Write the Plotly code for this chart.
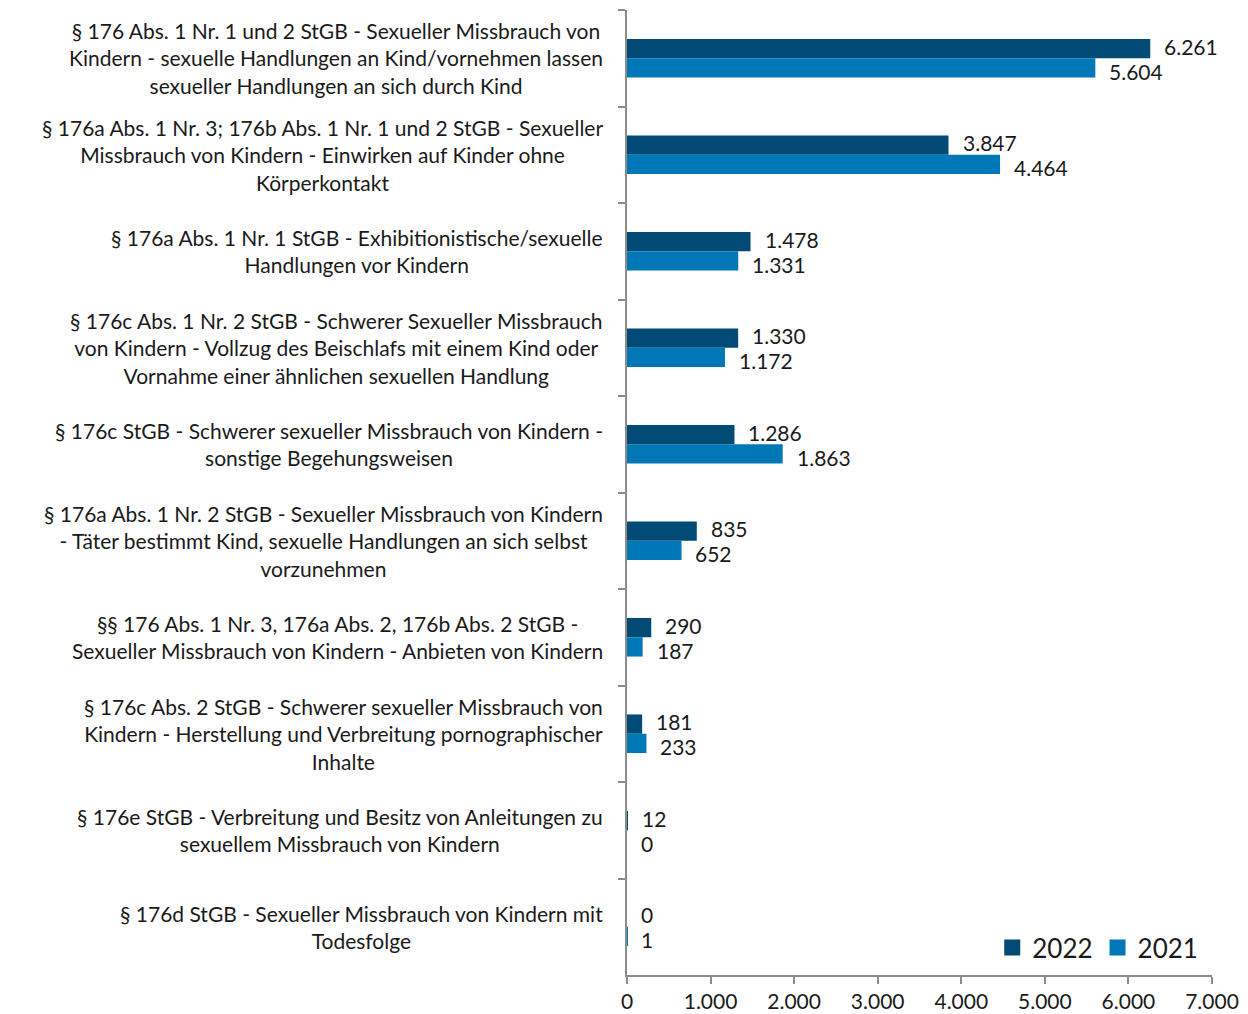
import plotly.graph_objects as go

categories = [
    "§ 176 Abs. 1 Nr. 1 und 2 StGB - Sexueller Missbrauch von<br>Kindern - sexuelle Handlungen an Kind/vornehmen lassen<br>sexueller Handlungen an sich durch Kind",
    "§ 176a Abs. 1 Nr. 3; 176b Abs. 1 Nr. 1 und 2 StGB - Sexueller<br>Missbrauch von Kindern - Einwirken auf Kinder ohne<br>Körperkontakt",
    "§ 176a Abs. 1 Nr. 1 StGB - Exhibitionistische/sexuelle<br>Handlungen vor Kindern",
    "§ 176c Abs. 1 Nr. 2 StGB - Schwerer Sexueller Missbrauch<br>von Kindern - Vollzug des Beischlafs mit einem Kind oder<br>Vornahme einer ähnlichen sexuellen Handlung",
    "§ 176c StGB - Schwerer sexueller Missbrauch von Kindern -<br>sonstige Begehungsweisen",
    "§ 176a Abs. 1 Nr. 2 StGB - Sexueller Missbrauch von Kindern<br>- Täter bestimmt Kind, sexuelle Handlungen an sich selbst<br>vorzunehmen",
    "§§ 176 Abs. 1 Nr. 3, 176a Abs. 2, 176b Abs. 2 StGB -<br>Sexueller Missbrauch von Kindern - Anbieten von Kindern",
    "§ 176c Abs. 2 StGB - Schwerer sexueller Missbrauch von<br>Kindern - Herstellung und Verbreitung pornographischer<br>Inhalte",
    "§ 176e StGB - Verbreitung und Besitz von Anleitungen zu<br>sexuellem Missbrauch von Kindern",
    "§ 176d StGB - Sexueller Missbrauch von Kindern mit<br>Todesfolge",
]
values_2022 = [6261, 3847, 1478, 1330, 1286, 835, 290, 181, 12, 0]
values_2021 = [5604, 4464, 1331, 1172, 1863, 652, 187, 233, 0, 1]
x_ticks = [0, 1000, 2000, 3000, 4000, 5000, 6000, 7000]
series_names = ["2022", "2021"]

COL_2022 = "#004b76"
COL_2021 = "#0077b6"
FONT = "Lato, sans-serif"
TXT = "#1a1a1a"

def de(v):
    return f"{v:,}".replace(",", ".")

fig = go.Figure()
fig.add_trace(go.Bar(y=categories, x=values_2022, name=series_names[0], orientation="h",
                     marker=dict(color=COL_2022, line=dict(width=0)), showlegend=False))
fig.add_trace(go.Bar(y=categories, x=values_2021, name=series_names[1], orientation="h",
                     marker=dict(color=COL_2021, line=dict(width=0)), showlegend=False))
# legend entries with larger square swatches
for nm, col in zip(series_names, [COL_2022, COL_2021]):
    fig.add_trace(go.Scatter(x=[None], y=[None], mode="markers", name=nm,
                             marker=dict(symbol="square", size=16, color=col), showlegend=True))

annotations = []
for cat in categories:
    annotations.append(dict(
        x=0, xref="paper", y=cat, yref="y", xanchor="right", yanchor="middle",
        xshift=-22, text=cat, showarrow=False, align="center",
        font=dict(family=FONT, size=21, color=TXT)))
for cat, v in zip(categories, values_2022):
    annotations.append(dict(x=v, y=cat, xref="x", yref="y", text=de(v), showarrow=False,
                            xanchor="left", yanchor="middle", xshift=12, yshift=12,
                            font=dict(family=FONT, size=21, color=TXT)))
for cat, v in zip(categories, values_2021):
    annotations.append(dict(x=v, y=cat, xref="x", yref="y", text=de(v), showarrow=False,
                            xanchor="left", yanchor="middle", xshift=12, yshift=-13,
                            font=dict(family=FONT, size=21, color=TXT)))

# page body has an 8px margin; figure is sized/offset to compensate
fig.update_layout(
    width=1240, height=1006,
    margin=dict(l=619, r=36, t=2, b=39),
    paper_bgcolor="white", plot_bgcolor="white",
    barmode="group", bargap=0.6, bargroupgap=0,
    separators=",.",
    font=dict(family=FONT, size=21, color=TXT),
    showlegend=True,
    legend=dict(orientation="h", x=0.985, xanchor="right", y=0.004, yanchor="bottom",
                font=dict(family=FONT, size=26, color=TXT),
                bgcolor="rgba(0,0,0,0)", itemwidth=30, traceorder="normal",
                tracegroupgap=0),
    annotations=annotations,
)
fig.update_xaxes(range=[0, 7000], tickvals=x_ticks, ticktext=[de(t) for t in x_ticks],
                 showgrid=False, zeroline=False, showline=True, linecolor="#8c8c8c", linewidth=2,
                 ticks="outside", ticklen=7, tickcolor="#8c8c8c", tickwidth=2,
                 tickfont=dict(family=FONT, size=21, color=TXT))
fig.update_yaxes(type="category", autorange="reversed", showticklabels=False,
                 showgrid=False, zeroline=False, showline=True, linecolor="#8c8c8c", linewidth=2,
                 ticks="outside", ticklen=7, tickcolor="#8c8c8c", tickwidth=2,
                 tickson="boundaries")

fig.write_html("out.html")
